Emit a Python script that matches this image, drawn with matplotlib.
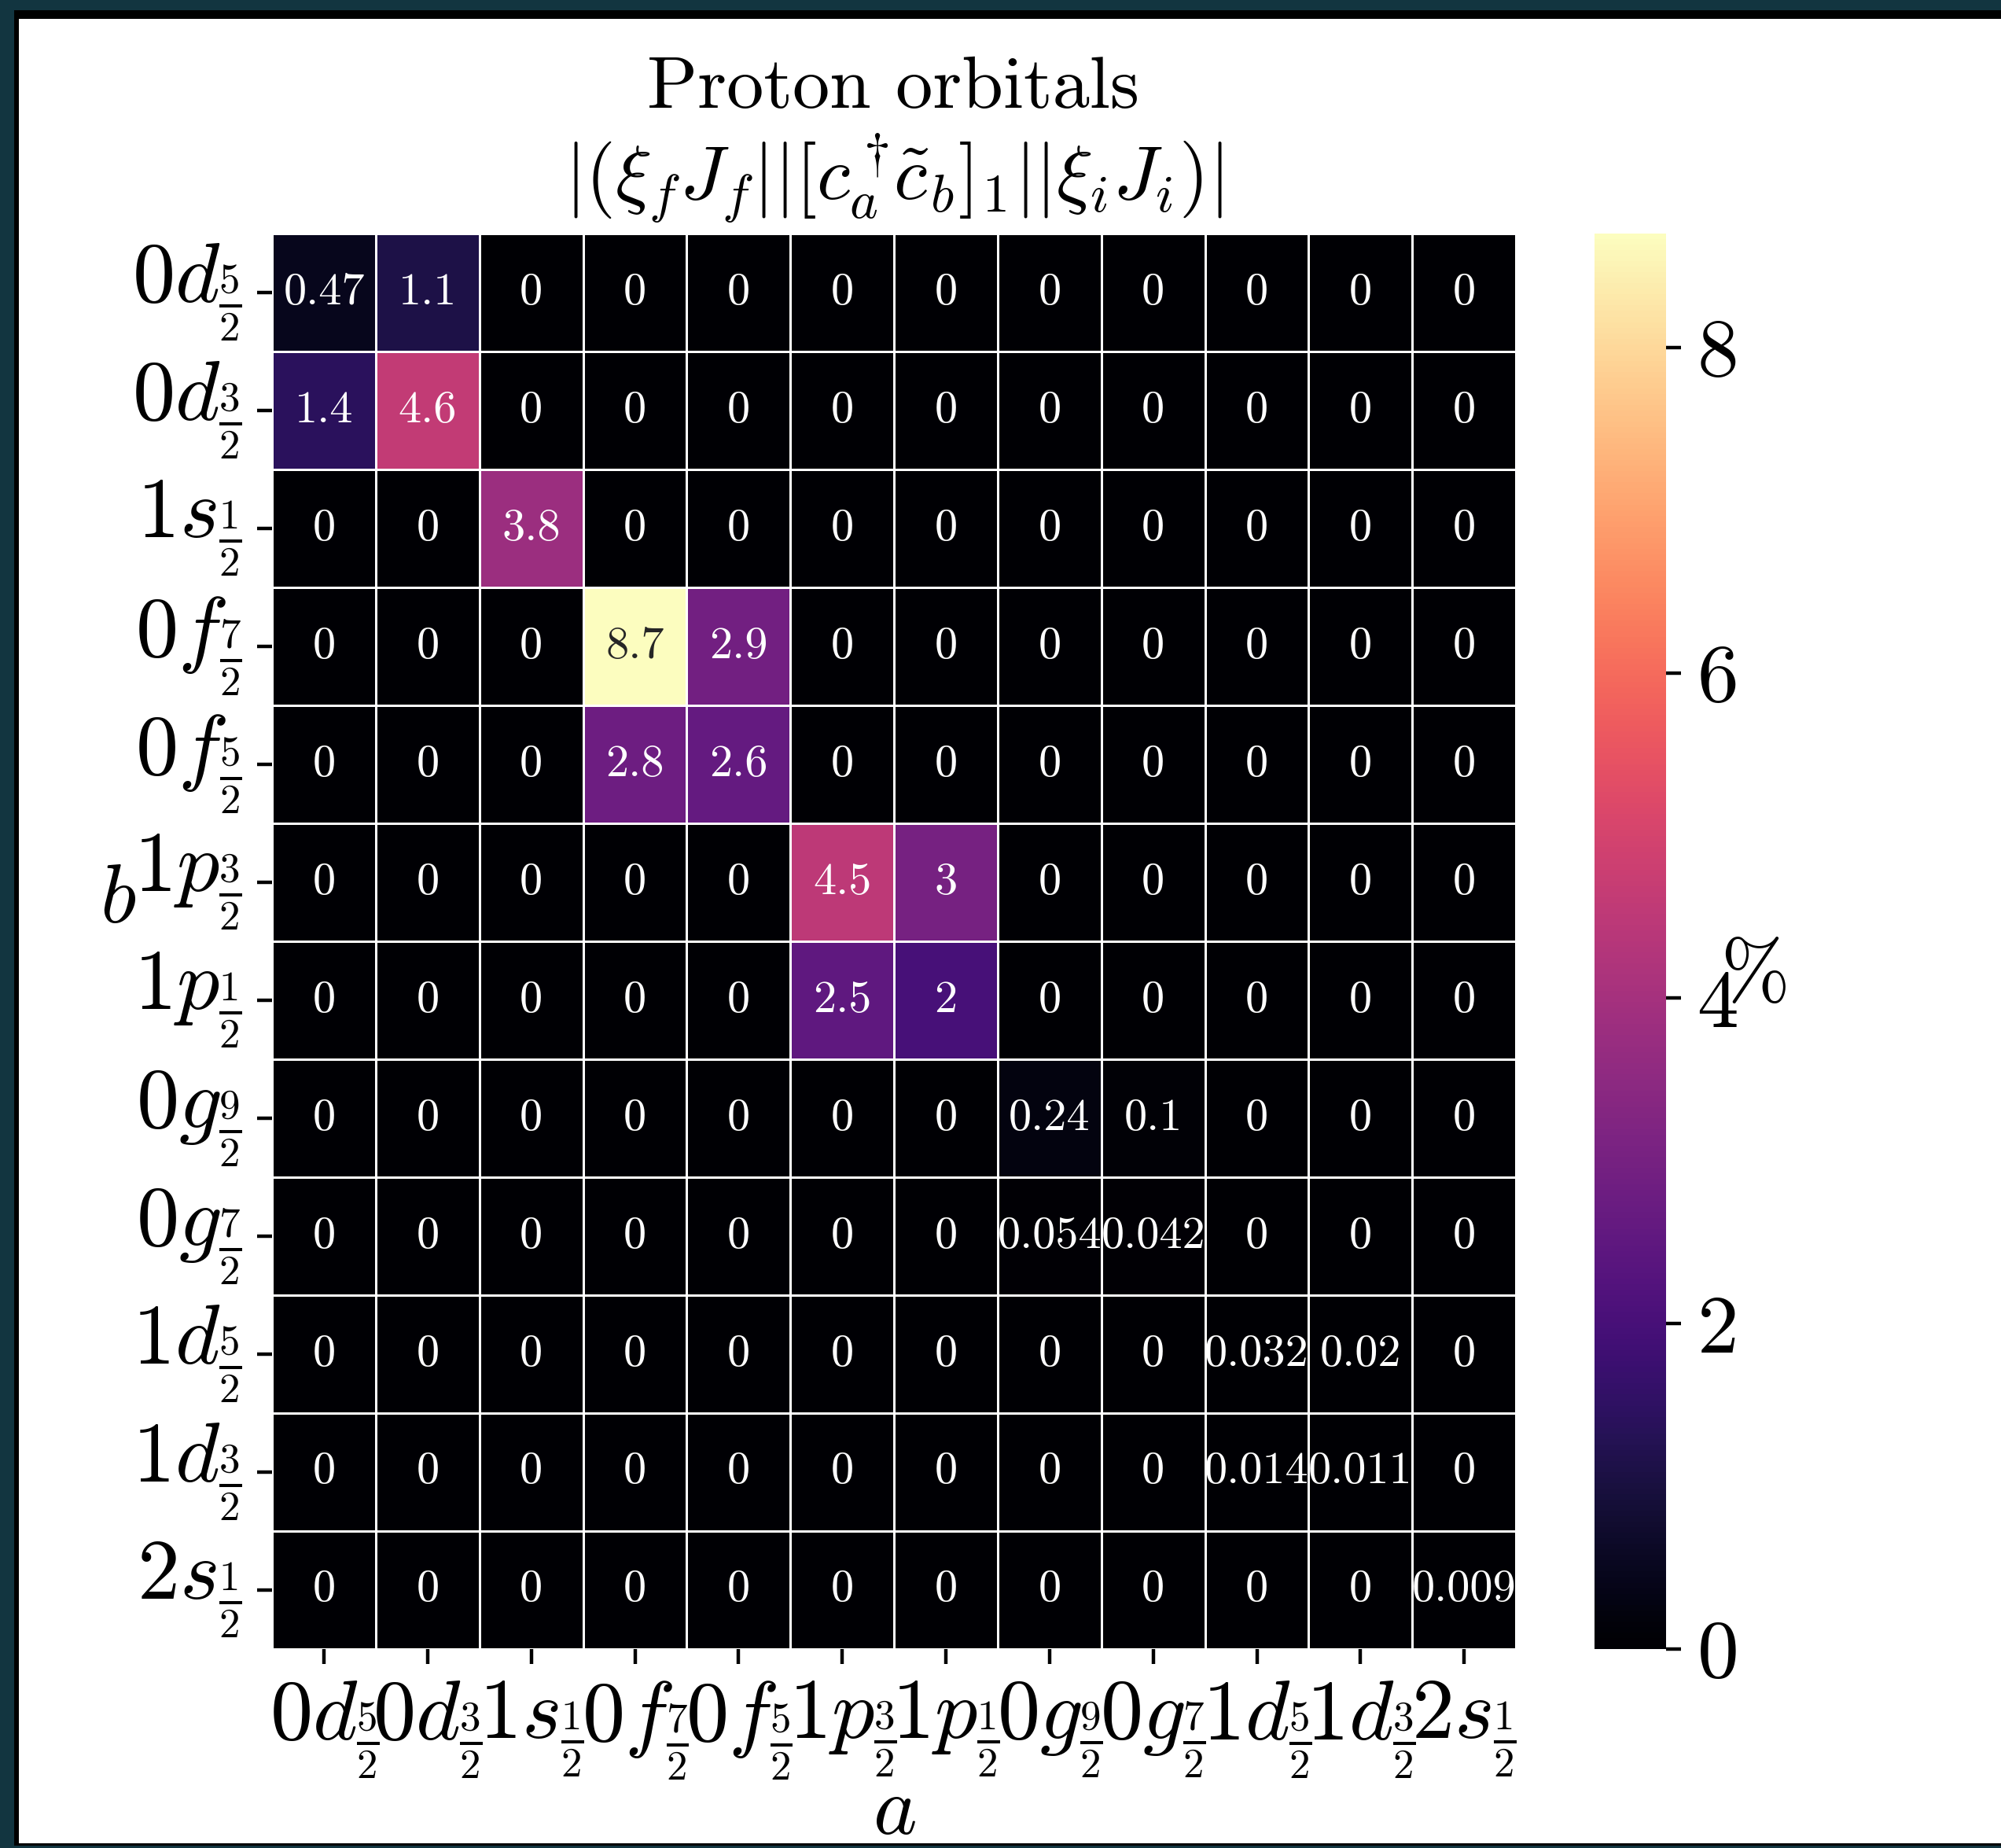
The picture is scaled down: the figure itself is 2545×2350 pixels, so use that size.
import numpy as np
import matplotlib
matplotlib.use('Agg')
import matplotlib.pyplot as plt
from matplotlib.patches import Rectangle
import seaborn as sns

plt.rcParams['font.family'] = 'serif'
plt.rcParams['font.serif'] = ['cmr10']
plt.rcParams['mathtext.fontset'] = 'cm'
plt.rcParams['axes.unicode_minus'] = False
plt.rcParams['axes.formatter.use_mathtext'] = True

orbitals = [r'$0d_{\frac{5}{2}}$', r'$0d_{\frac{3}{2}}$', r'$1s_{\frac{1}{2}}$',
            r'$0f_{\frac{7}{2}}$', r'$0f_{\frac{5}{2}}$', r'$1p_{\frac{3}{2}}$',
            r'$1p_{\frac{1}{2}}$', r'$0g_{\frac{9}{2}}$', r'$0g_{\frac{7}{2}}$',
            r'$1d_{\frac{5}{2}}$', r'$1d_{\frac{3}{2}}$', r'$2s_{\frac{1}{2}}$']

# rows = b, columns = a  (values in %)
row_0d52 = [0.47, 1.1, 0, 0, 0, 0, 0, 0, 0, 0, 0, 0]
row_0d32 = [1.4, 4.6, 0, 0, 0, 0, 0, 0, 0, 0, 0, 0]
row_1s12 = [0, 0, 3.8, 0, 0, 0, 0, 0, 0, 0, 0, 0]
row_0f72 = [0, 0, 0, 8.7, 2.9, 0, 0, 0, 0, 0, 0, 0]
row_0f52 = [0, 0, 0, 2.8, 2.6, 0, 0, 0, 0, 0, 0, 0]
row_1p32 = [0, 0, 0, 0, 0, 4.5, 3, 0, 0, 0, 0, 0]
row_1p12 = [0, 0, 0, 0, 0, 2.5, 2, 0, 0, 0, 0, 0]
row_0g92 = [0, 0, 0, 0, 0, 0, 0, 0.24, 0.1, 0, 0, 0]
row_0g72 = [0, 0, 0, 0, 0, 0, 0, 0.054, 0.042, 0, 0, 0]
row_1d52 = [0, 0, 0, 0, 0, 0, 0, 0, 0, 0.032, 0.02, 0]
row_1d32 = [0, 0, 0, 0, 0, 0, 0, 0, 0, 0.014, 0.011, 0]
row_2s12 = [0, 0, 0, 0, 0, 0, 0, 0, 0, 0, 0, 0.009]

data = np.array([row_0d52, row_0d32, row_1s12, row_0f72, row_0f52, row_1p32,
                 row_1p12, row_0g92, row_0g72, row_1d52, row_1d32, row_2s12])

fig = plt.figure(figsize=(6.3625, 5.875), dpi=400, facecolor='#123540')
# screenshot frame
fig.patches.append(Rectangle((18/2545, 3/2350), 1, 1 - 13/2350 - 3/2350,
                             transform=fig.transFigure, facecolor='black',
                             edgecolor='none', zorder=-2))
fig.patches.append(Rectangle((24/2545, 6/2350), 1, 1 - 24/2350 - 6/2350,
                             transform=fig.transFigure, facecolor='white',
                             edgecolor='none', zorder=-1))

ax = fig.add_axes([0.136, 0.1077, 0.6216, 0.7659])
cax = fig.add_axes([0.797, 0.1077, 0.0358, 0.7659])

sns.heatmap(data, ax=ax, cbar_ax=cax, cmap='magma', annot=True, fmt='.2g',
            linewidths=0.5, linecolor='white', annot_kws={'fontsize': 10.5})

ax.set_xticklabels(orbitals, rotation=0, fontsize=19.5)
ax.set_yticklabels(orbitals, rotation=0, fontsize=19.5)
ax.set_xlabel('$a$', fontsize=19, va='center')
ax.xaxis.set_label_coords(0.5, -0.116)
ax.set_ylabel('$b$', fontsize=19, rotation=0, ha='center', va='center')
ax.yaxis.set_label_coords(-0.124, 0.528)

cax.tick_params(labelsize=19)
cax.set_ylabel('%', fontsize=19, rotation=0)

fig.text(0.4465, 0.9516, 'Proton orbitals', fontsize=17, ha='center', va='center')
fig.text(0.4465, 0.9035, r'$|(\xi_f J_f||[c_a^\dagger\!\tilde{c}_b]_1||\xi_i J_i)|$',
         fontsize=17.5, ha='center', va='center')

plt.savefig('out.png', dpi=400, facecolor=fig.get_facecolor())
